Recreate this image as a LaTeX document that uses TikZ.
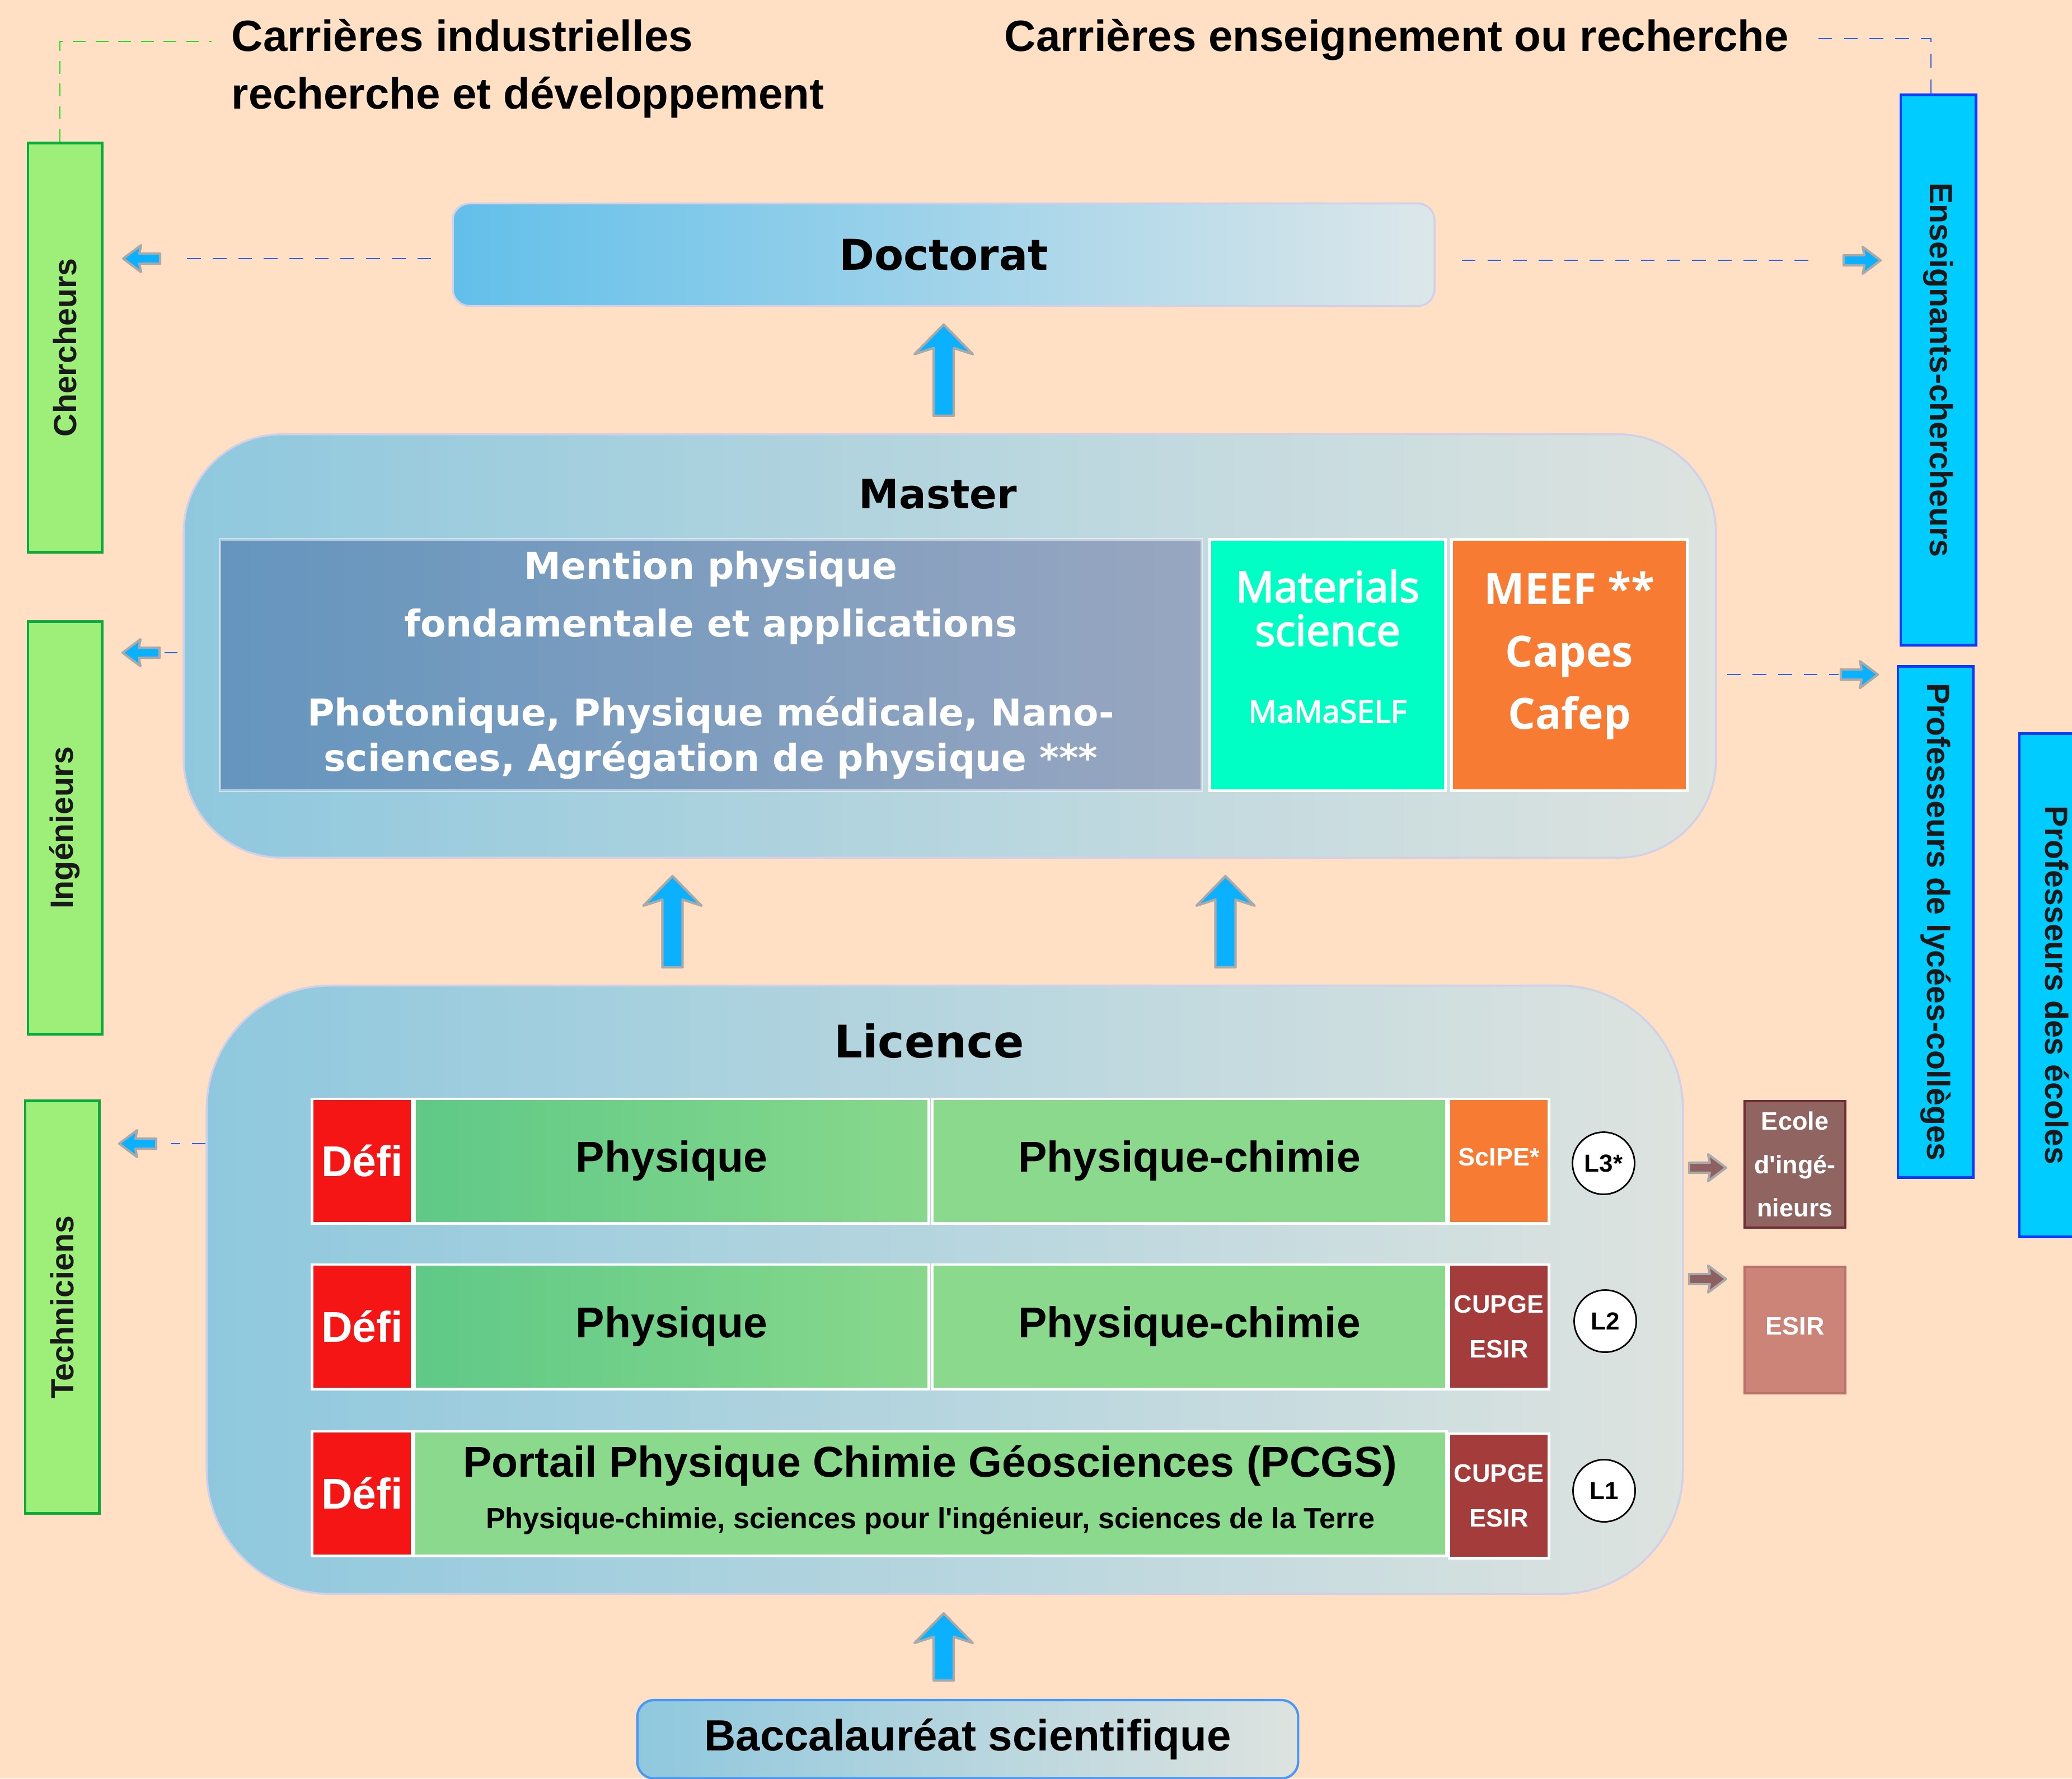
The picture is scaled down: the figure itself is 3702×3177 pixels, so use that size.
\documentclass[tikz,border=0pt]{standalone}
\usepackage{fontspec}
\setmainfont{Liberation Sans}
\setmonofont{Liberation Sans}
\newfontfamily\dejavu{DejaVu Sans}
\newfontfamily\opensans{Open Sans}
\newfontfamily\opensansmed{Open Sans}[FakeBold=3]
\newcommand\apos{{\ttfamily'}}
\usetikzlibrary{calc}

\definecolor{peach}{HTML}{FFE0C4}
\definecolor{docL}{HTML}{62BFEA}
\definecolor{docR}{HTML}{DDE7EA}
\definecolor{boxL}{HTML}{8FC8DE}
\definecolor{boxR}{HTML}{DDE3DF}
\definecolor{boxedge}{HTML}{D2D0E6}
\definecolor{mentL}{HTML}{6595BE}
\definecolor{mentR}{HTML}{98A6C0}
\definecolor{matgreen}{HTML}{00FFC4}
\definecolor{meeforange}{HTML}{F77B33}
\definecolor{defired}{HTML}{F51515}
\definecolor{physL}{HTML}{5FC987}
\definecolor{physR}{HTML}{88D88C}
\definecolor{pcgreen}{HTML}{8BD98D}
\definecolor{cupgered}{HTML}{A53C3C}
\definecolor{ecolefill}{HTML}{8F6461}
\definecolor{ecoleedge}{HTML}{722E33}
\definecolor{esirfill}{HTML}{CD8478}
\definecolor{esiredge}{HTML}{B9726A}
\definecolor{bargreen}{HTML}{9EEE7A}
\definecolor{bargreenedge}{HTML}{0CAA3A}
\definecolor{barcyan}{HTML}{00CCFF}
\definecolor{barcyanedge}{HTML}{0A3CFF}
\definecolor{arrowblue}{HTML}{0BB0FF}
\definecolor{arrowgrey}{HTML}{A9A9A9}
\definecolor{arrowbrown}{HTML}{8E6060}
\definecolor{dashblue}{HTML}{2A62F0}
\definecolor{dashgreen}{HTML}{22DD22}
\definecolor{bacedge}{HTML}{4A98F5}

\begin{document}
\begin{tikzpicture}[x=0.01cm,y=-0.01cm,
  big/.style={draw=boxedge,line width=1pt,left color=boxL,right color=boxR,inner sep=0pt},
  bar/.style={draw,line width=1.4pt,inner sep=0pt,text=black!90,font=\bfseries\fontsize{16.3}{20}\selectfont},
  greenbar/.style={bar,draw=bargreenedge,fill=bargreen,rotate=90,minimum height=1.32cm},
  cyanbar/.style={bar,draw=barcyanedge,fill=barcyan,rotate=-90,minimum height=1.34cm},
  tile/.style={draw=white,line width=1.4pt,inner sep=0pt,minimum height=2.22cm,font=\bfseries\fontsize{21.9}{26}\selectfont},
  sidetile/.style={tile,fill=cupgered,text=white,align=center,minimum width=1.78cm,font=\bfseries\fontsize{12.8}{22.8}\selectfont},
  mtile/.style={draw=white,line width=1.4pt,inner sep=0pt,minimum width=4.21cm,minimum height=4.49cm,text=white,align=center},
  level/.style={circle,draw,line width=0.8pt,fill=white,minimum size=1.11cm,inner sep=0pt,font=\bfseries\fontsize{12.5}{15}\selectfont},
  career/.style={anchor=base west,inner sep=0pt,font=\bfseries\fontsize{22.2}{26}\selectfont},
  school/.style={draw,line width=1.2pt,inner sep=0pt,minimum width=1.80cm,minimum height=2.26cm,text=white,align=center,font=\bfseries\fontsize{12.8}{22}\selectfont},
  bluedash/.style={draw=dashblue,line width=0.8pt,dash pattern=on 7pt off 6pt},
  greendash/.style={draw=dashgreen,line width=0.7pt,dash pattern=on 6.5pt off 5pt},
  arrowline/.style={draw=arrowgrey,line width=1.2pt,line join=round},
  pics/bigarrow/.style={code={
    \filldraw[arrowline,fill=arrowblue] (-#1/2,18) -- (#1/2-42,18) -- (#1/2-53,52) -- (#1/2,0)
      -- (#1/2-53,-52) -- (#1/2-42,-18) -- (-#1/2,-18) -- cycle;}},
  pics/smallarrow/.style={code={
    \filldraw[arrowline,fill=#1] (-33,9) -- (4,9) -- (1,24) -- (33,0) -- (1,-24) -- (4,-9) -- (-33,-9) -- cycle;}}
]

  \fill[peach] (0,0) rectangle (3702,3177);
  \useasboundingbox (0,0) rectangle (3702,3177);
  \clip (0,0) rectangle (3702,3177);

  \node[career] (carind1) at (413,91) {Carrières industrielles};
  \node[career] (carind2) at (413,194) {recherche et développement};
  \node[career] (carens) at (1794,91) {Carrières enseignement ou recherche};

  \node[greenbar,minimum width=7.31cm] (chercheurs) at (116,621) {Chercheurs};
  \node[greenbar,minimum width=7.37cm] (ingenieurs) at (116,1479) {Ingénieurs};
  \node[greenbar,minimum width=7.36cm] (techniciens) at (111,2335) {Techniciens};
  \node[cyanbar,minimum width=9.83cm] (enseignants) at (3463,661) {Enseignants-chercheurs};
  \node[cyanbar,minimum width=9.12cm] (lycees) at (3458,1647) {Professeurs de lycées-collèges};
  \node[cyanbar,minimum width=8.99cm] (ecoles) at (3675,1760) {Professeurs des écoles};

  \node[big,left color=docL,right color=docR,rounded corners=0.3cm,minimum width=17.53cm,minimum height=1.83cm,
        font=\dejavu\bfseries\fontsize{21.6}{26}\selectfont] (doctorat) at (1686,455) {Doctorat};

  \node[big,rounded corners=1.75cm,minimum width=27.36cm,minimum height=7.56cm] (master) at (1697,1154) {};
  \node[font=\dejavu\bfseries\fontsize{20.5}{25}\selectfont] (mastertitle) at (1676,883) {Master};
  \node[mtile,left color=mentL,right color=mentR,draw opacity=0.5,minimum width=17.53cm,
        font=\dejavu\bfseries\fontsize{18.8}{23.3}\selectfont] (mention) at (1270,1188)
       {Mention physique\\[6pt]fondamentale et applications\\[21.9pt]Photonique, Physique médicale, Nano-\\sciences, Agrégation de physique ***};
  \node[mtile,fill=matgreen] (materials) at (2372,1188) {};
  \node[text=white,align=center,font=\opensansmed\fontsize{21.6}{22.2}\selectfont] (matname) at (2372,1086) {Materials\\science};
  \node[text=white,anchor=base,font=\opensansmed\fontsize{15.9}{19}\selectfont] (mamaself) at (2372,1291) {MaMaSELF};
  \node[mtile,fill=meeforange] (meef) at (2804,1188) {};
  \node[text=white,align=center,font=\opensans\bfseries\fontsize{21.9}{31.6}\selectfont] (meeftxt) at (2804,1171) {MEEF **\\Capes\\Cafep};

  \node[big,rounded corners=2.2cm,minimum width=26.36cm,minimum height=10.86cm] (licence) at (1688,2304) {};
  \node[font=\dejavu\bfseries\fontsize{22.8}{27}\selectfont] (licencetitle) at (1660,1860) {Licence};

  \node[tile,fill=defired,text=white,minimum width=1.79cm] (defiA) at (647,2074) {Défi};
  \node[tile,left color=physL,right color=physR,minimum width=9.19cm] (physA) at (1200,2074) {Physique};
  \node[tile,fill=pcgreen,minimum width=9.18cm] (pcA) at (2125,2074) {Physique-chimie};
  \node[sidetile,fill=meeforange] (scipe) at (2678,2074) {\raisebox{4pt}{ScIPE*}};
  \node[level] (lthree) at (2865,2078) {L3*};

  \node[tile,fill=defired,text=white,minimum width=1.79cm] (defiB) at (647,2370) {Défi};
  \node[tile,left color=physL,right color=physR,minimum width=9.19cm] (physB) at (1200,2370) {\raisebox{-3pt}{Physique}};
  \node[tile,fill=pcgreen,minimum width=9.18cm] (pcB) at (2125,2370) {Physique-chimie};
  \node[sidetile] (cupgeB) at (2678,2370) {CUPGE\\ESIR};
  \node[level] (ltwo) at (2868,2360) {L2};

  \node[tile,fill=defired,text=white,minimum width=1.79cm] (defiC) at (647,2668) {Défi};
  \node[tile,fill=pcgreen,minimum width=18.43cm] (pcgs) at (1662,2668) {};
  \node[anchor=base,font=\bfseries\fontsize{21.9}{26}\selectfont] (pcgstitle) at (1662,2638) {Portail Physique Chimie Géosciences (PCGS)};
  \node[anchor=base,font=\bfseries\fontsize{14.8}{18}\selectfont] (pcgssub) at (1662,2730) {Physique-chimie, sciences pour l\apos ingénieur, sciences de la Terre};
  \node[sidetile] (cupgeC) at (2678,2672) {CUPGE\\ESIR};
  \node[level] (lone) at (2866,2663) {L1};

  \node[school,draw=ecoleedge,fill=ecolefill] (ecole) at (3207,2080) {Ecole\\d\apos ingé-\\nieurs};
  \node[school,draw=esiredge,fill=esirfill] (esir) at (3207,2376) {\raisebox{4pt}{ESIR}};

  \node[big,draw=bacedge,line width=1.2pt,rounded corners=0.3cm,minimum width=11.80cm,minimum height=1.40cm,
        font=\bfseries\fontsize{22.2}{26}\selectfont] (bac) at (1729,3107) {Baccalauréat scientifique};

  \coordinate (gcorner) at (378,74);
  \coordinate (bcorner) at (3246,69);
  \draw[greendash] ($(chercheurs.east)+(-9,0)$) |- (gcorner);
  \draw[bluedash] ($(enseignants.west)+(-13,0)$) |- (bcorner);

  \coordinate (toChercheurs) at (253,462);
  \coordinate (toEnseignants) at (3327,465);
  \coordinate (toIngenieurs) at (252,1166);
  \coordinate (toLycees) at (3322,1205);
  \coordinate (toTechniciens) at (246,2043);

  \draw[bluedash] ($(doctorat.west |- toChercheurs)+(-37,0)$) -- ($(toChercheurs)+(71,0)$);
  \pic[rotate=180] at (toChercheurs) {smallarrow=arrowblue};
  \draw[bluedash] ($(doctorat.east |- toEnseignants)+(47,0)$) -- ($(toEnseignants)+(-81,0)$);
  \pic at (toEnseignants) {smallarrow=arrowblue};
  \draw[bluedash] ($(master.west |- toIngenieurs)+(-9,0)$) -- ($(toIngenieurs)+(42,0)$);
  \pic[rotate=180] at (toIngenieurs) {smallarrow=arrowblue};
  \draw[bluedash] ($(master.east |- toLycees)+(18,0)$) -- ($(toLycees)+(-37,0)$);
  \pic at (toLycees) {smallarrow=arrowblue};
  \draw[bluedash] (licence.west |- toTechniciens) -- ($(toTechniciens)+(59,0)$);
  \pic[rotate=180] at (toTechniciens) {smallarrow=arrowblue};

  \coordinate (gapDM) at ($(doctorat.south)!0.5!(doctorat.south |- master.north)$);
  \pic[rotate=90] at (gapDM) {bigarrow=163};
  \coordinate (gapML) at ($(master.south)!0.5!(licence.north)$);
  \pic[rotate=90] at ($(gapML)+(-491,0)$) {bigarrow=163};
  \pic[rotate=90] at ($(gapML)+(497,0)$) {bigarrow=163};
  \coordinate (gapLB) at ($(licence.south)!0.5!(bac.north)$);
  \pic[rotate=90] at (gapLB -| doctorat.south) {bigarrow=120};

  \pic at ($(ecole.west)+(-64,6)$) {smallarrow=arrowbrown};
  \pic at ($(esir.north west)+(-64,24)$) {smallarrow=arrowbrown};

\end{tikzpicture}
\end{document}
